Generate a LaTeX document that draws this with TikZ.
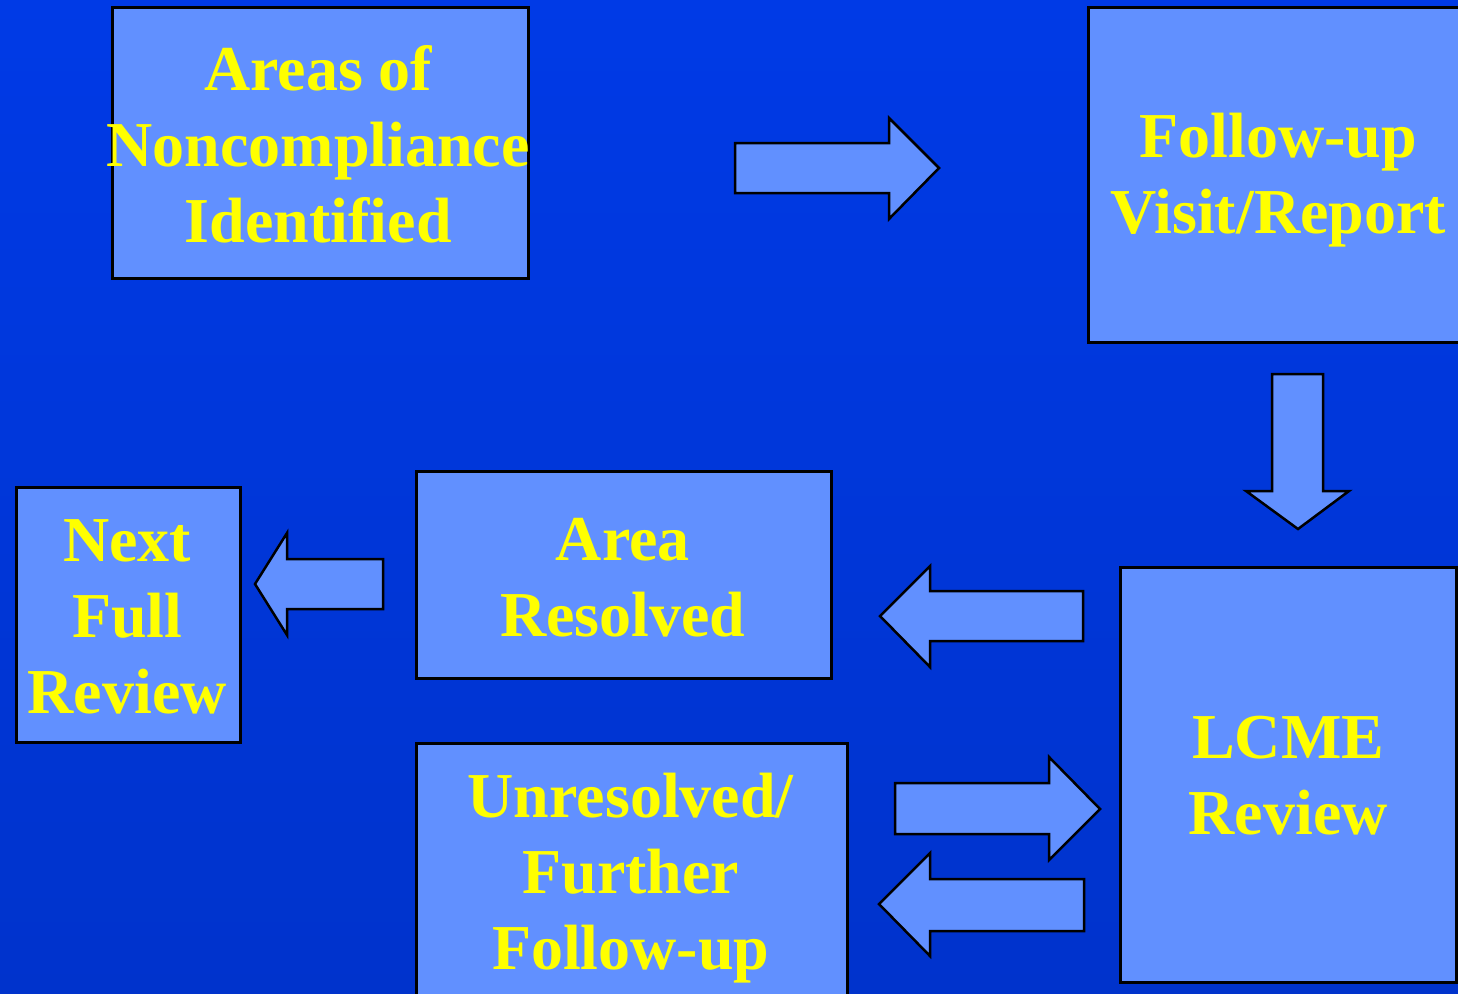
\documentclass[tikz,border=0pt]{standalone}
\usepackage{fontspec}
\setmainfont{Liberation Serif}
\definecolor{bgtop}{HTML}{003AE6}
\definecolor{bgbot}{HTML}{0033CC}
\definecolor{boxfill}{HTML}{6190FF}
\definecolor{txt}{HTML}{FFFF00}
\tikzset{
  box/.style={draw=black, line width=2.5pt, fill=boxfill, inner sep=0pt, anchor=north west},
  boxtext/.style={text=txt, font=\fontsize{64}{76}\selectfont\bfseries, align=center, inner sep=0pt},
  blockarrow/.style={draw=black, line width=2.5pt, fill=boxfill, line join=miter},
}
\begin{document}
\begin{tikzpicture}[x=1pt,y=-1pt]
\useasboundingbox (0,0) rectangle (1458,993);
\clip (0,0) rectangle (1458,993);
\shade[top color=bgtop, bottom color=bgbot] (0,0) rectangle (1458,993);

% boxes
\node[box, minimum width=416pt, minimum height=271pt] (areas) at (111,6) {};
\node[boxtext] (areasT) at ([xshift=-2pt,yshift=-2pt]areas.center) {Areas of\\Noncompliance\\Identified};
\node[box, minimum width=386pt, minimum height=335pt] (follow) at (1087,6) {};
\node[boxtext] (followT) at ([xshift=-3pt,yshift=-5pt]follow.center) {Follow-up\\Visit/Report};
\node[box, minimum width=336pt, minimum height=415pt] (lcme) at (1119,566) {};
\node[boxtext] (lcmeT) at ([yshift=-1pt]lcme.center) {LCME\\Review};
\node[box, minimum width=415pt, minimum height=207pt] (resolved) at (415,470) {};
\node[boxtext] (resolvedT) at ([xshift=-1pt,yshift=-3pt]resolved.center) {Area\\Resolved};
\node[box, minimum width=224pt, minimum height=255pt] (next) at (15,486) {};
\node[boxtext] (nextT) at ([xshift=-1pt,yshift=-2pt]next.center) {Next\\Full\\Review};
\node[box, minimum width=431pt, minimum height=258pt] (unres) at (415,742) {};
\node[boxtext] (unresT) at ([xshift=-1pt,yshift=-6pt]unres.center) {Unresolved/\\Further\\Follow-up};

% block arrows
\draw[blockarrow] (735,143) -- (889,143) -- (889,118) -- (939,168) -- (889,219) -- (889,193) -- (735,193) -- cycle;
\draw[blockarrow] (1272,374) -- (1323,374) -- (1323,491) -- (1349,491) -- (1298,529) -- (1246,491) -- (1272,491) -- cycle;
\draw[blockarrow] (1083,591) -- (930,591) -- (930,566) -- (880,616) -- (930,667) -- (930,641) -- (1083,641) -- cycle;
\draw[blockarrow] (383,559) -- (287,559) -- (287,533) -- (255,584) -- (287,635) -- (287,609) -- (383,609) -- cycle;
\draw[blockarrow] (895,783) -- (1049,783) -- (1049,757) -- (1100,809) -- (1049,860) -- (1049,834) -- (895,834) -- cycle;
\draw[blockarrow] (1084,879) -- (930,879) -- (930,853) -- (879,904) -- (930,956) -- (930,931) -- (1084,931) -- cycle;
\end{tikzpicture}
\end{document}
